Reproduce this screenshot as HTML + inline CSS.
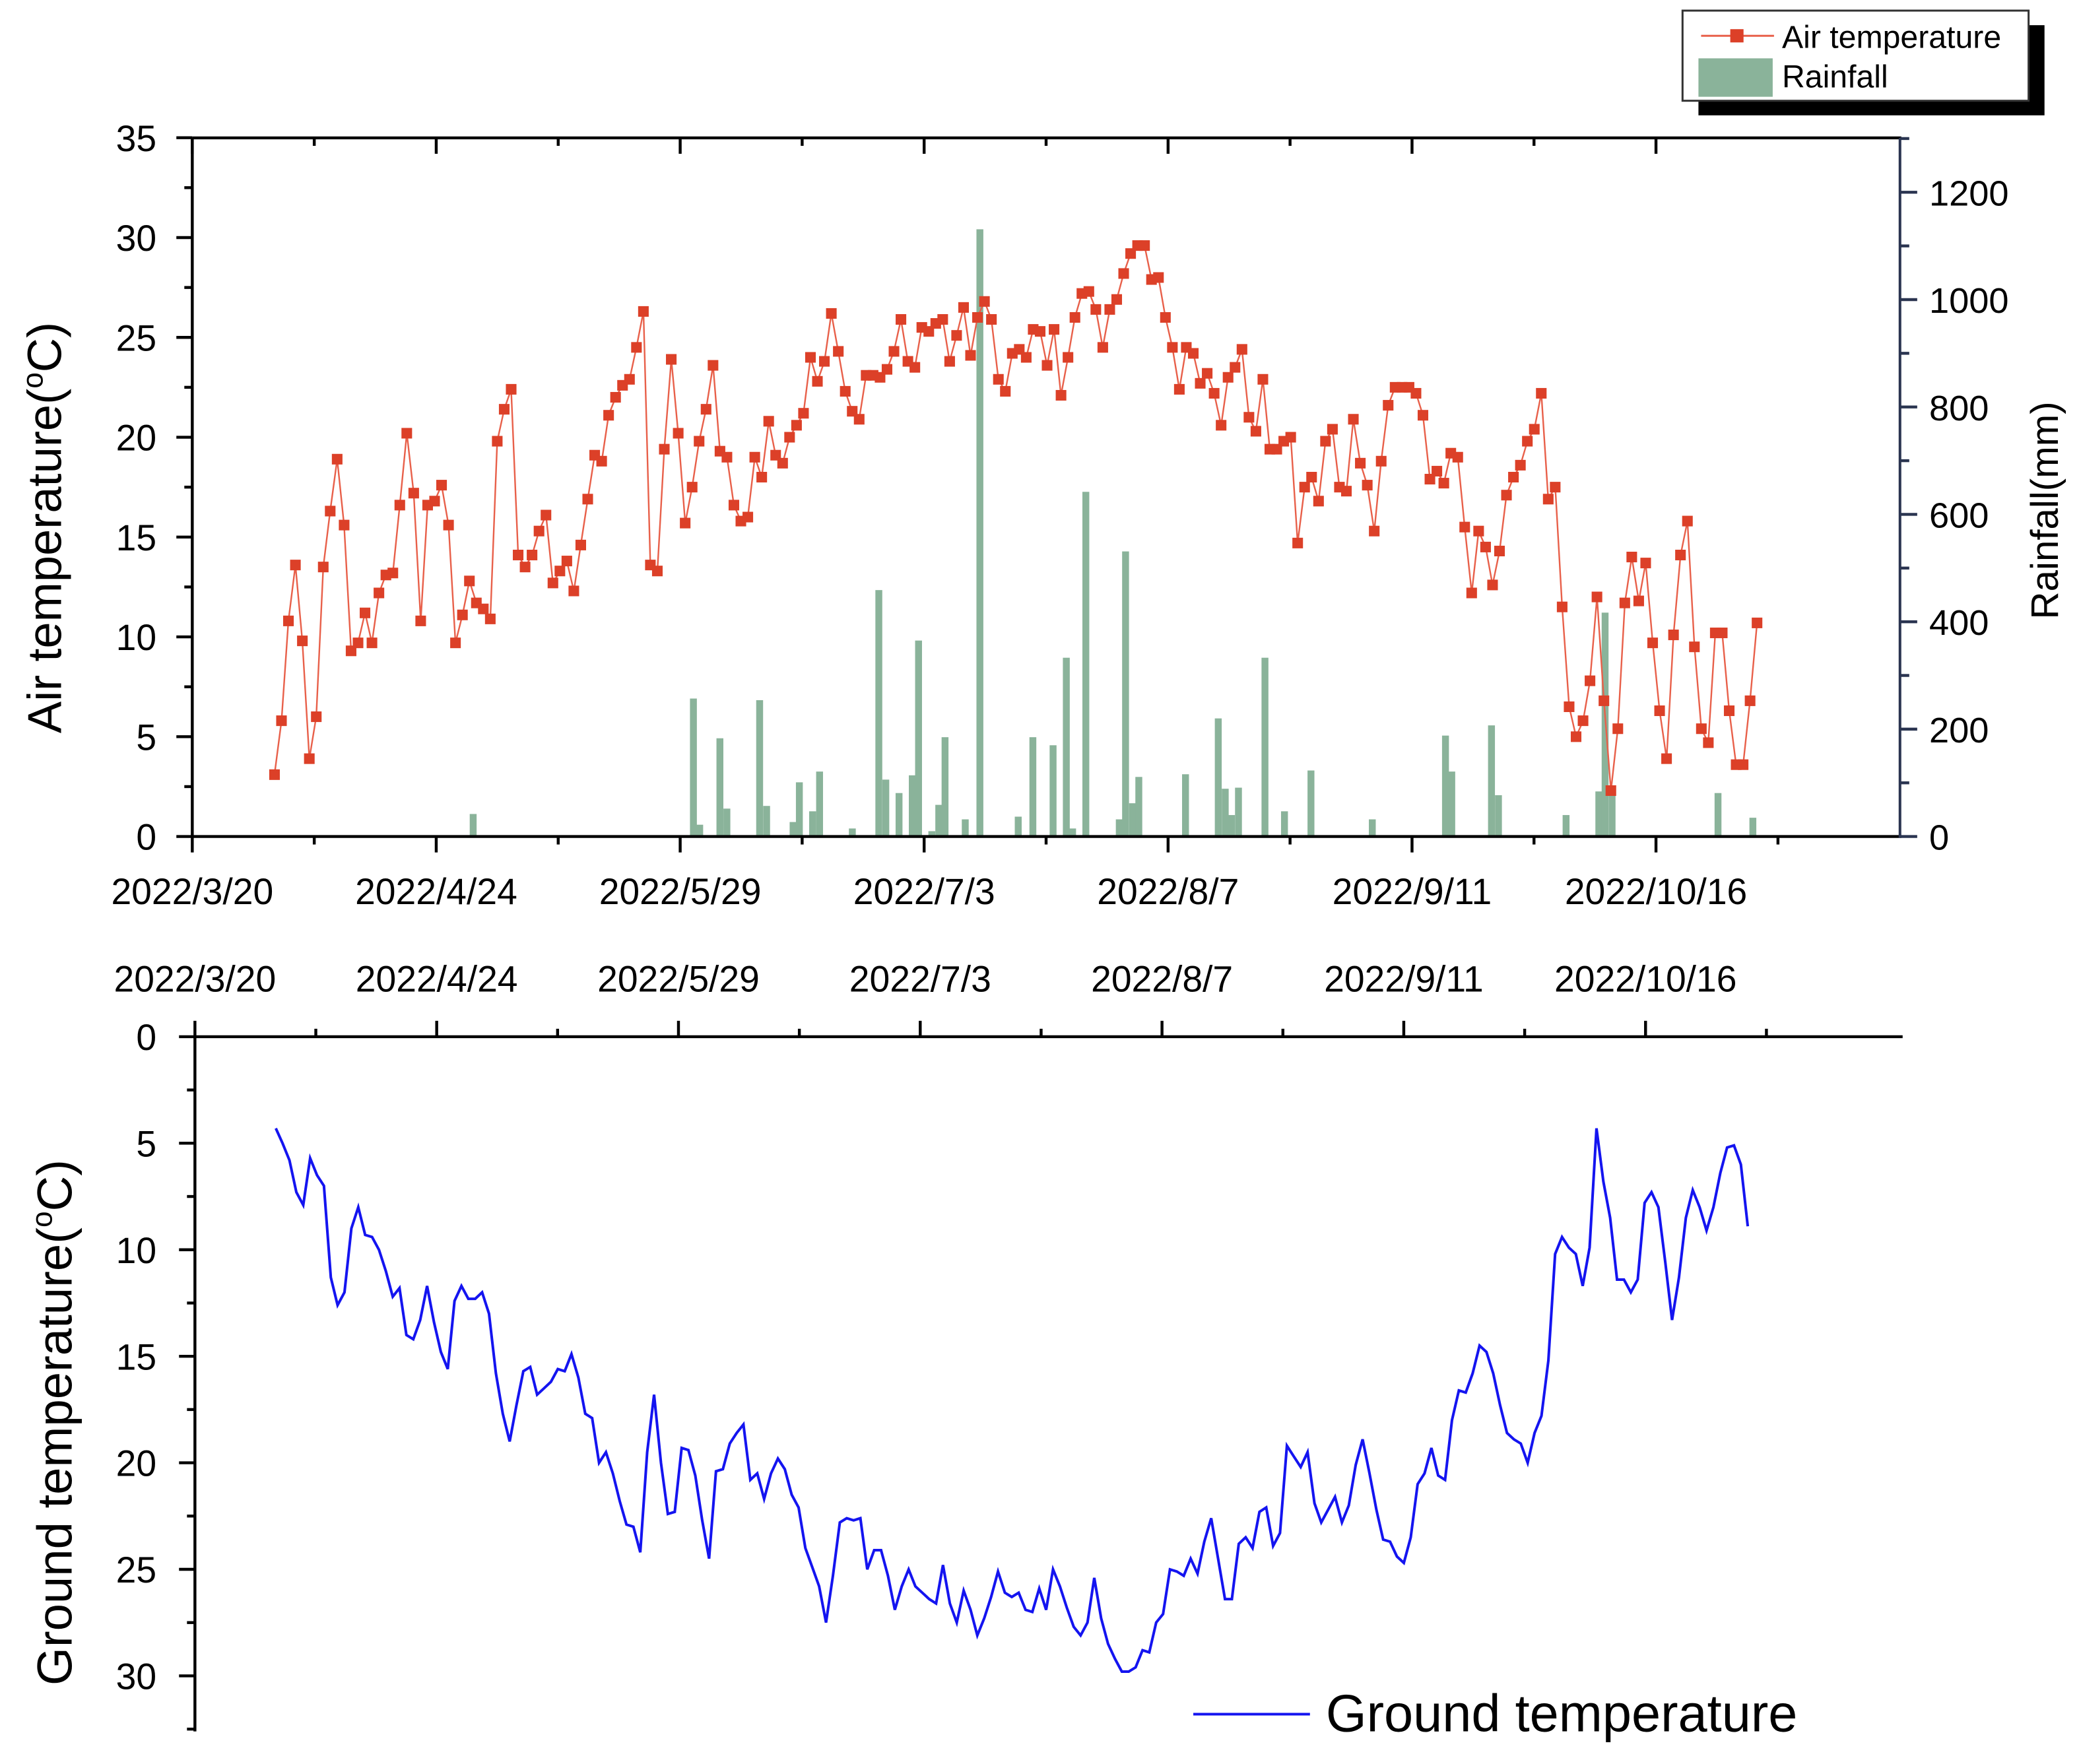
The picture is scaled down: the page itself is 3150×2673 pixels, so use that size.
<!DOCTYPE html>
<html><head><meta charset="utf-8"><style>
html,body{margin:0;padding:0;background:#fff;}
svg{display:block;font-family:"Liberation Sans",Arial,sans-serif;}
</style></head><body>
<svg id="chart" width="3150" height="2673" viewBox="0 0 1568 1330.6" xmlns="http://www.w3.org/2000/svg">
<g id="topPanel"></g>
<g id="botPanel"></g>
<g>
<rect x="1281" y="19" width="261" height="68" fill="#000"/>
<rect x="1269" y="8" width="261" height="68" fill="#fff" stroke="#333" stroke-width="1.5"/>
<line x1="1283" y1="27" x2="1338" y2="27" stroke="#e8604a" stroke-width="1.5"/>
<rect x="1305" y="22" width="10" height="10" fill="#dc4028"/>
<text x="1344" y="36" font-size="24">Air temperature</text>
<rect x="1281" y="44" width="56" height="29" fill="#8ab39a"/>
<text x="1344" y="66" font-size="24">Rainfall</text>
</g>
<g>
<line x1="900" y1="1293" x2="988" y2="1293" stroke="#1414f0" stroke-width="2"/>
<text x="1000" y="1306" font-size="39.5">Ground temperature</text>
</g>
<text transform="translate(46,398) rotate(-90)" text-anchor="middle" font-size="36">Air temperature(<tspan font-size="22" dy="-14">o</tspan><tspan dy="14">C)</tspan></text>
<text transform="translate(1552,385) rotate(-90)" text-anchor="middle" font-size="29">Rainfall(mm)</text>
<text transform="translate(54,1073) rotate(-90)" text-anchor="middle" font-size="37">Ground temperature(<tspan font-size="22" dy="-15">o</tspan><tspan dy="15">C)</tspan></text>
</svg>
<script>
const dateLabels=["2022/3/20","2022/4/24","2022/5/29","2022/7/3","2022/8/7","2022/9/11","2022/10/16"];
const airTicks=[0,5,10,15,20,25,30,35];
const rainTicks=[0,200,400,600,800,1000,1200];
const groundTicks=[0,5,10,15,20,25,30];
const airStartDay=11.8, airEndDay=224.5;
const airTemp=[3.1,5.8,10.8,13.6,9.8,3.9,6.0,13.5,16.3,18.9,15.6,9.3,9.7,11.2,9.7,12.2,13.1,13.2,16.6,20.2,17.2,10.8,16.6,16.8,17.6,15.6,9.7,11.1,12.8,11.7,11.4,10.9,19.8,21.4,22.4,14.1,13.5,14.1,15.3,16.1,12.7,13.3,13.8,12.3,14.6,16.9,19.1,18.8,21.1,22.0,22.6,22.9,24.5,26.3,13.6,13.3,19.4,23.9,20.2,15.7,17.5,19.8,21.4,23.6,19.3,19.0,16.6,15.8,16.0,19.0,18.0,20.8,19.1,18.7,20.0,20.6,21.2,24.0,22.8,23.8,26.2,24.3,22.3,21.3,20.9,23.1,23.1,23.0,23.4,24.3,25.9,23.8,23.5,25.5,25.3,25.7,25.9,23.8,25.1,26.5,24.1,26.0,26.8,25.9,22.9,22.3,24.2,24.4,24.0,25.4,25.3,23.6,25.4,22.1,24.0,26.0,27.2,27.3,26.4,24.5,26.4,26.9,28.2,29.2,29.6,29.6,27.9,28.0,26.0,24.5,22.4,24.5,24.2,22.7,23.2,22.2,20.6,23.0,23.5,24.4,21.0,20.3,22.9,19.4,19.4,19.8,20.0,14.7,17.5,18.0,16.8,19.8,20.4,17.5,17.3,20.9,18.7,17.6,15.3,18.8,21.6,22.5,22.5,22.5,22.2,21.1,17.9,18.3,17.7,19.2,19.0,15.5,12.2,15.3,14.5,12.6,14.3,17.1,18.0,18.6,19.8,20.4,22.2,16.9,17.5,11.5,6.5,5.0,5.8,7.8,12.0,6.8,2.3,5.4,11.7,14.0,11.8,13.7,9.7,6.3,3.9,10.1,14.1,15.8,9.5,5.4,4.7,10.2,10.2,6.3,3.6,3.6,6.8,10.7];
const rainDay=[40.3,71.9,72.8,75.7,76.7,81.4,82.4,86.2,87.1,89.0,90.0,94.7,98.5,99.5,101.4,103.3,104.2,106.1,107.1,108.0,110.9,113.0,118.5,120.6,123.5,125.4,126.3,128.2,133.0,133.9,134.9,135.8,142.5,147.2,148.2,149.1,150.1,153.9,156.7,160.5,169.3,179.8,180.7,186.4,187.4,197.1,201.8,202.7,203.7,218.9,223.9];
const rainfall=[42,257,22,183,52,254,57,27,101,47,121,15,459,106,81,114,365,10,59,185,32,1131,37,185,170,333,15,642,32,531,62,111,116,220,89,40,91,333,47,123,32,188,121,207,77,40,84,417,81,81,35];
const groundStartDay=11.7, groundEndDay=224.8;
const groundTemp=[4.3,5.0,5.8,7.3,7.9,5.7,6.5,7.0,11.3,12.6,12.0,9.0,8.0,9.3,9.4,10.0,11.0,12.2,11.8,14.0,14.2,13.3,11.7,13.4,14.8,15.6,12.4,11.7,12.3,12.3,12.0,13.0,15.8,17.7,19.0,17.3,15.7,15.5,16.8,16.5,16.2,15.6,15.7,14.9,16.0,17.7,17.9,20.0,19.5,20.5,21.8,22.9,23.0,24.2,19.5,16.8,20.0,22.4,22.3,19.3,19.4,20.6,22.7,24.5,20.4,20.3,19.1,18.6,18.2,20.8,20.5,21.7,20.5,19.8,20.3,21.5,22.1,24.0,24.9,25.8,27.5,25.3,22.8,22.6,22.7,22.6,25.0,24.1,24.1,25.3,26.9,25.8,25.0,25.8,26.1,26.4,26.6,24.8,26.6,27.5,26.0,26.9,28.1,27.3,26.3,25.1,26.1,26.3,26.1,26.9,27.0,25.9,26.9,25.0,25.8,26.8,27.7,28.1,27.5,25.4,27.3,28.5,29.2,29.8,29.8,29.6,28.8,28.9,27.5,27.1,25.0,25.1,25.3,24.5,25.2,23.7,22.6,24.5,26.4,26.4,23.8,23.5,24.0,22.3,22.1,23.9,23.3,19.2,19.7,20.2,19.5,21.9,22.8,22.2,21.6,22.8,22.0,20.1,18.9,20.5,22.2,23.6,23.7,24.4,24.7,23.5,21.0,20.5,19.3,20.6,20.8,18.0,16.6,16.7,15.8,14.5,14.8,15.8,17.3,18.6,18.9,19.1,20.0,18.6,17.8,15.2,10.2,9.4,9.9,10.2,11.7,9.9,4.3,6.8,8.5,11.4,11.4,12.0,11.4,7.8,7.3,8.0,10.6,13.3,11.3,8.5,7.2,8.0,9.1,8.0,6.4,5.2,5.1,6.0,8.9];

const NS="http://www.w3.org/2000/svg";
function mk(parent,tag,attrs){const e=document.createElementNS(NS,tag);for(const k in attrs)e.setAttribute(k,attrs[k]);parent.appendChild(e);return e;}
const xTop=d=>145+d*5.257;
const yAir=v=>631-v*15.06;
const yRain=v=>631-v*0.405;
const xBot=d=>147+d*5.21;
const yGround=v=>782+v*16.07;

const topG=document.getElementById('topPanel');
const botG=document.getElementById('botPanel');

rainDay.forEach((d,i)=>{
  const h=631-yRain(rainfall[i]);
  const r=mk(topG,'rect',{x:xTop(d)-2.6,y:yRain(rainfall[i]),width:5.2,height:h,fill:'#8ab39a'});
  
  
});
const aStep=(airEndDay-airStartDay)/(airTemp.length-1);
const aPts=airTemp.map((v,i)=>xTop(airStartDay+i*aStep).toFixed(1)+','+yAir(v).toFixed(1)).join(' ');
const al=mk(topG,'polyline',{points:aPts,fill:'none',stroke:'#e8604a','stroke-width':1.2});


airTemp.forEach((v,i)=>{
  const m=mk(topG,'rect',{x:xTop(airStartDay+i*aStep)-4,y:yAir(v)-4,width:8,height:8,fill:'#dc4028'});
  
  
});
const ax=mk(topG,'g',{stroke:'#000','stroke-width':2.2,fill:'none'});


mk(ax,'line',{x1:145,y1:104,x2:1434,y2:104});
mk(ax,'line',{x1:145,y1:631,x2:1434,y2:631});
mk(ax,'line',{x1:145,y1:104,x2:145,y2:631});
mk(ax,'line',{x1:1433,y1:104,x2:1433,y2:632,stroke:'#2a3450','stroke-width':2});
dateLabels.forEach((s,i)=>{
  const x=xTop(i*35);
  mk(ax,'line',{x1:x,y1:631,x2:x,y2:643});
  mk(ax,'line',{x1:x,y1:104,x2:x,y2:116});
  if(i<6){mk(ax,'line',{x1:xTop(i*35+17.5),y1:631,x2:xTop(i*35+17.5),y2:637});mk(ax,'line',{x1:xTop(i*35+17.5),y1:104,x2:xTop(i*35+17.5),y2:110});}
  const t=mk(topG,'text',{x:x,y:682,'text-anchor':'middle','font-size':27.5});
  t.textContent=s;
  
  
});
mk(ax,'line',{x1:xTop(227.5),y1:631,x2:xTop(227.5),y2:637});
airTicks.forEach((v,i)=>{
  const y=yAir(v);
  mk(ax,'line',{x1:133,y1:y,x2:145,y2:y});
  if(i<7) mk(ax,'line',{x1:139,y1:yAir(v+2.5),x2:145,y2:yAir(v+2.5)});
  const t=mk(topG,'text',{x:118,y:y+10,'text-anchor':'end','font-size':27.5});
  t.textContent=v;
  
  
});
rainTicks.forEach((v,i)=>{
  const y=yRain(v);
  mk(ax,'line',{x1:1433,y1:y,x2:1446,y2:y,stroke:'#2a3450'});
  mk(ax,'line',{x1:1433,y1:yRain(v+100),x2:1440,y2:yRain(v+100),stroke:'#2a3450'});
  const t=mk(topG,'text',{x:1455,y:y+10,'font-size':27});
  t.textContent=v;
  
  
});

const gStep=(groundEndDay-groundStartDay)/(groundTemp.length-1);
const gPts=groundTemp.map((v,i)=>xBot(groundStartDay+i*gStep).toFixed(1)+','+yGround(v).toFixed(1)).join(' ');
const gl=mk(botG,'polyline',{points:gPts,fill:'none',stroke:'#1414f0','stroke-width':2});


const bx=mk(botG,'g',{stroke:'#000','stroke-width':2.2,fill:'none'});


mk(bx,'line',{x1:147,y1:782,x2:1435,y2:782});
mk(bx,'line',{x1:147,y1:782,x2:147,y2:1306});
dateLabels.forEach((s,i)=>{
  const x=xBot(i*35);
  mk(bx,'line',{x1:x,y1:770,x2:x,y2:782});
  mk(bx,'line',{x1:xBot(i*35+17.5),y1:776,x2:xBot(i*35+17.5),y2:782});
  const t=mk(botG,'text',{x:x,y:748,'text-anchor':'middle','font-size':27.5});
  t.textContent=s;
  
  
});
groundTicks.forEach((v,i)=>{
  const y=yGround(v);
  mk(bx,'line',{x1:135,y1:y,x2:147,y2:y});
  mk(bx,'line',{x1:141,y1:yGround(v+2.5),x2:147,y2:yGround(v+2.5)});
  const t=mk(botG,'text',{x:118,y:y+10,'text-anchor':'end','font-size':27.5});
  t.textContent=v;
  
  
});
</script>
</body></html>
